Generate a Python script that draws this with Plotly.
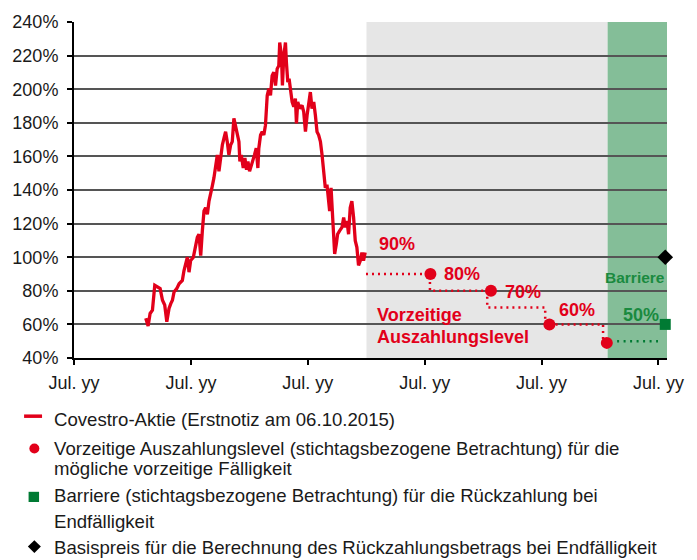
import plotly.graph_objects as go

# ---------------- data ----------------
# time in years after the first "Jul. yy" tick, share price in % of reference
stock_t = [0.614, 0.634, 0.651, 0.671, 0.691, 0.714, 0.737, 0.757, 0.776, 0.794,
           0.813, 0.828, 0.842, 0.856, 0.879, 0.899, 0.927, 0.941, 0.956, 0.970,
           0.984, 0.998, 1.021, 1.041, 1.055, 1.069, 1.084, 1.098, 1.112, 1.126,
           1.141, 1.155, 1.169, 1.183, 1.197, 1.212, 1.226, 1.240, 1.254, 1.269,
           1.283, 1.297, 1.311, 1.325, 1.340, 1.354, 1.368, 1.382, 1.396, 1.411,
           1.419, 1.431, 1.448, 1.462, 1.476, 1.488, 1.502, 1.516, 1.530, 1.544,
           1.559, 1.573, 1.581, 1.596, 1.610, 1.624, 1.638, 1.653, 1.667, 1.681,
           1.695, 1.709, 1.724, 1.738, 1.752, 1.760, 1.775, 1.783, 1.795, 1.809,
           1.817, 1.829, 1.840, 1.852, 1.866, 1.880, 1.894, 1.903, 1.914, 1.931,
           1.951, 1.965, 1.980, 1.994, 2.008, 2.022, 2.036, 2.051, 2.065, 2.079,
           2.093, 2.108, 2.122, 2.136, 2.150, 2.164, 2.179, 2.187, 2.199, 2.210,
           2.221, 2.230, 2.244, 2.255, 2.272, 2.292, 2.307, 2.321, 2.335, 2.349,
           2.363, 2.377, 2.392, 2.406, 2.420, 2.434, 2.449, 2.463, 2.477, 2.491]
stock_pct = [63.6, 59.1, 66.5, 68.5, 83.3, 82.3, 81.3, 74.4, 71.5, 61.6,
             69.5, 72.4, 74.4, 79.3, 81.3, 84.2, 86.2, 92.1, 96.0, 100.0,
             91.1, 98.0, 100.0, 107.8, 111.8, 113.7, 101.0, 115.7, 127.5, 129.5,
             125.5, 133.4, 139.3, 142.3, 147.2, 155.0, 160.9, 151.1, 159.0, 166.8,
             170.8, 174.7, 168.8, 160.9, 166.8, 168.8, 182.6, 178.6, 172.7, 168.8,
             157.0, 160.9, 153.1, 159.0, 152.1, 157.0, 151.1, 155.0, 159.0, 160.9,
             164.9, 153.1, 164.9, 172.7, 174.7, 172.7, 178.6, 196.3, 200.3, 196.3,
             208.1, 210.1, 202.2, 212.1, 214.0, 227.8, 219.9, 202.2, 219.9, 227.8,
             216.0, 204.2, 206.2, 200.3, 192.4, 189.5, 194.4, 179.6, 192.4, 188.5,
             190.4, 186.5, 174.7, 184.5, 192.4, 198.3, 188.5, 192.4, 184.5, 174.7,
             172.7, 168.8, 160.9, 149.1, 141.3, 143.2, 133.4, 127.5, 141.3, 123.6,
             109.8, 101.9, 107.8, 113.7, 115.7, 117.7, 123.6, 117.7, 121.6, 113.7,
             129.5, 133.4, 123.6, 109.8, 105.9, 95.1, 97.9, 102.8, 97.9, 102.8]

# early redemption level step path (dotted) and observation dots
step_t = [2.498, 3.045, 3.045, 3.535, 3.535, 4.031, 4.031, 4.526, 4.526]
step_pct = [90, 90, 80, 80, 70, 70, 60, 60, 49]
dot_t = [3.049, 3.567, 4.067, 4.558]
dot_pct = [90, 80, 60, 49]
level_labels = ["90%", "80%", "70%", "60%"]
level_label_t = [2.767, 3.316, 3.838, 4.301]
level_label_pct = [108.1, 90.1, 79.2, 68.5]

# barrier (final observation)
barrier_line_t = [4.646, 4.996]
barrier_line_pct = [50, 50]
barrier_t = [5.058]
barrier_pct = [60]
strike_t = [5.058]
strike_pct = [100]

# phases: listed period, early redemption period, final period
phase_bounds = [2.502, 4.565, 5.073]

x_ticks = [0, 1, 2, 3, 4, 5]
x_ticktext = ["Jul. yy"] * 6
y_ticks = list(range(40, 241, 20))
y_ticktext = [f"{v}%" for v in y_ticks]

legend_texts = [
    "Covestro-Aktie (Erstnotiz am 06.10.2015)",
    "Vorzeitige Auszahlungslevel (stichtagsbezogene Betrachtung) für die",
    "mögliche vorzeitige Fälligkeit",
    "Barriere (stichtagsbezogene Betrachtung) für die Rückzahlung bei",
    "Endfälligkeit",
    "Basispreis für die Berechnung des Rückzahlungsbetrags bei Endfälligkeit",
]

# ---------------- style ----------------
RED = "#E2001A"
GREEN_FILL = "#84BE98"
GREEN_DARK = "#007A33"
GREEN_TEXT = "#1A8A3F"
GREY_FILL = "#E6E6E6"
FONT = "Liberation Sans, Arial, sans-serif"

W, H = 697, 560
L, R, T, B = 73, 667, 19, 358


def px(xp):
    return (xp - L) / (R - L)


def py(yp):
    return (B - yp) / (B - T)


fig = go.Figure()

fig.add_trace(go.Scatter(x=stock_t, y=stock_pct, mode="lines",
                         line=dict(color=RED, width=3.3), hoverinfo="skip"))
fig.add_trace(go.Scatter(x=step_t, y=step_pct, mode="lines",
                         line=dict(color=RED, width=2.5, dash="2px,4px"),
                         hoverinfo="skip"))
fig.add_trace(go.Scatter(x=dot_t, y=dot_pct, mode="markers",
                         marker=dict(color=RED, size=12), hoverinfo="skip",
                         cliponaxis=False))
fig.add_trace(go.Scatter(x=barrier_line_t, y=barrier_line_pct, mode="lines",
                         line=dict(color=GREEN_DARK, width=2.5, dash="2px,4.5px"),
                         hoverinfo="skip"))
fig.add_trace(go.Scatter(x=barrier_t, y=barrier_pct, mode="markers",
                         marker=dict(color=GREEN_DARK, size=11, symbol="square"),
                         hoverinfo="skip", cliponaxis=False))
fig.add_trace(go.Scatter(x=strike_t, y=strike_pct, mode="markers",
                         marker=dict(color="black", size=12, symbol="diamond"),
                         hoverinfo="skip", cliponaxis=False))

shapes = [
    dict(type="rect", xref="x", yref="y", x0=phase_bounds[0], x1=phase_bounds[1],
         y0=40, y1=240, fillcolor=GREY_FILL, line=dict(width=0), layer="below"),
    dict(type="rect", xref="x", yref="y", x0=phase_bounds[1], x1=phase_bounds[2],
         y0=40, y1=240, fillcolor=GREEN_FILL, line=dict(width=0), layer="below"),
]

# legend glyphs
shapes.append(dict(type="line", xref="paper", yref="paper", x0=px(23), x1=px(41),
                   y0=py(416.7), y1=py(416.7), line=dict(color=RED, width=3.5)))
shapes.append(dict(type="circle", xref="paper", yref="paper", x0=px(28.3), x1=px(38.3),
                   y0=py(454.3), y1=py(444.3), fillcolor=RED, line=dict(width=0)))
shapes.append(dict(type="rect", xref="paper", yref="paper", x0=px(27.5), x1=px(38),
                   y0=py(503.3), y1=py(493), fillcolor=GREEN_DARK, line=dict(width=0)))
cx, cy, d = 33.3, 548.3, 6.5
shapes.append(dict(type="path", xref="paper", yref="paper",
                   path=f"M {px(cx - d)} {py(cy)} L {px(cx)} {py(cy - d)} L {px(cx + d)} {py(cy)} L {px(cx)} {py(cy + d)} Z",
                   fillcolor="black", line=dict(width=0)))

annotations = []
for txt, xt, yv in zip(level_labels, level_label_t, level_label_pct):
    annotations.append(dict(x=xt, y=yv, xref="x", yref="y", text=f"<b>{txt}</b>",
                            showarrow=False, font=dict(family=FONT, size=18, color=RED),
                            xanchor="center", yanchor="middle"))
annotations.append(dict(x=2.573, y=65.4, xref="x", yref="y", text="<b>Vorzeitige</b>",
                        showarrow=False, font=dict(family=FONT, size=18, color=RED),
                        xanchor="left", yanchor="middle"))
annotations.append(dict(x=2.573, y=52.8, xref="x", yref="y", text="<b>Auszahlungslevel</b>",
                        showarrow=False, font=dict(family=FONT, size=18, color=RED),
                        xanchor="left", yanchor="middle"))
annotations.append(dict(x=4.803, y=87.7, xref="x", yref="y", text="<b>Barriere</b>",
                        showarrow=False, font=dict(family=FONT, size=15.5, color=GREEN_TEXT),
                        xanchor="center", yanchor="middle"))
annotations.append(dict(x=4.849, y=65.5, xref="x", yref="y", text="<b>50%</b>",
                        showarrow=False, font=dict(family=FONT, size=18, color=GREEN_TEXT),
                        xanchor="center", yanchor="middle"))

legend_y = [419.7, 449.7, 469.8, 497.2, 522.5, 549.5]
for txt, yl in zip(legend_texts, legend_y):
    annotations.append(dict(x=px(51), y=py(yl), xref="paper", yref="paper", text=txt,
                            showarrow=False, font=dict(family=FONT, size=18.6, color="#1a1a1a"),
                            xanchor="left", yanchor="middle"))

fig.update_layout(
    width=W, height=H,
    margin=dict(l=L, r=W - R, t=T, b=H - B, pad=0),
    paper_bgcolor="white", plot_bgcolor="white",
    showlegend=False,
    shapes=shapes, annotations=annotations,
    font=dict(family=FONT, size=18, color="#1a1a1a"),
)
fig.update_xaxes(range=[0, phase_bounds[2]], tickvals=x_ticks, ticktext=x_ticktext,
                 showgrid=False, zeroline=False, showline=True, linecolor="black",
                 linewidth=2, ticks="outside", ticklen=5, tickwidth=2, tickcolor="black",
                 ticklabelstandoff=2,
                 tickfont=dict(family=FONT, size=18, color="#1a1a1a"))
fig.update_yaxes(range=[40, 240], tickvals=y_ticks, ticktext=y_ticktext,
                 showgrid=True, gridcolor="#555555", gridwidth=1.5, zeroline=False,
                 showline=True, linecolor="black", linewidth=2, ticks="outside",
                 ticklen=5, tickwidth=2, tickcolor="black", ticklabelstandoff=5,
                 tickfont=dict(family=FONT, size=18, color="#1a1a1a"))

fig.write_html("out.html", config={"displayModeBar": False},
               post_script="document.body.style.margin='0';document.body.style.padding='0';document.documentElement.style.overflow='hidden';")
